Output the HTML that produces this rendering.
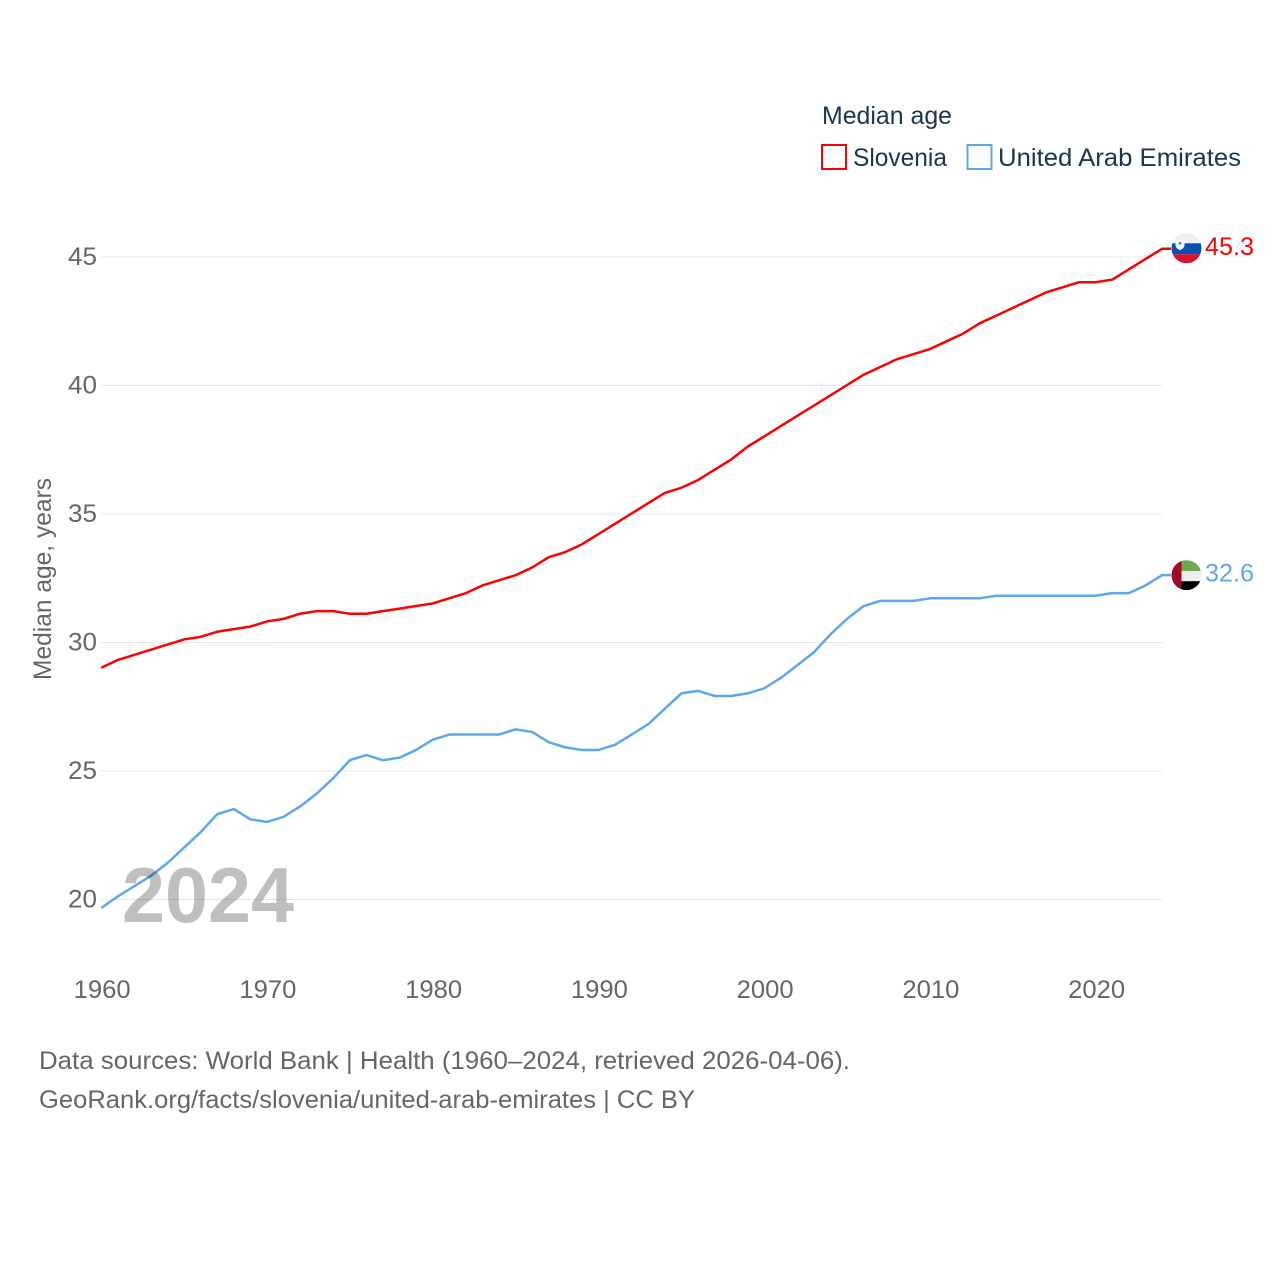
<!DOCTYPE html>
<html lang="en">
<head>
<meta charset="utf-8">
<title>Median age: Slovenia and United Arab Emirates</title>
<style>
  html, body { margin: 0; padding: 0; background: #fff; }
  svg { display: block; font-family: "Liberation Sans", sans-serif; }
</style>
</head>
<body>
<svg id="chart" width="1280" height="1280" viewBox="0 0 1280 1280" xmlns="http://www.w3.org/2000/svg">
  <defs>
    <clipPath id="flag-clip-si"><circle id="clip-si" r="15"></circle></clipPath>
    <clipPath id="flag-clip-ae"><circle id="clip-ae" r="15"></circle></clipPath>
  </defs>
  <g id="grid"></g>
  <g id="y-ticks"></g>
  <g id="x-ticks"></g>
  <text transform="translate(51,680) rotate(-90)" font-size="25" fill="#666" textLength="202" lengthAdjust="spacingAndGlyphs">Median age, years</text>

  <g id="series"></g>
  <text x="122" y="922" font-size="78" font-weight="700" fill="rgba(0,0,0,0.25)" textLength="172" lengthAdjust="spacingAndGlyphs">2024</text>

  <g id="flag-si"></g>
  <g id="flag-ae"></g>
  <g id="end-labels"></g>

  <g>
    <text x="822" y="124" font-size="25" fill="#1a3557" textLength="130" lengthAdjust="spacingAndGlyphs">Median age</text>
    <rect x="822" y="145" width="24" height="24" fill="none" stroke="#ff0000" stroke-width="2"></rect>
    <text x="853" y="166" font-size="25" fill="#1a3557" textLength="94" lengthAdjust="spacingAndGlyphs">Slovenia</text>
    <rect x="967.5" y="145" width="24" height="24" fill="none" stroke="#5ba8f0" stroke-width="2"></rect>
    <text x="998" y="166" font-size="25" fill="#1a3557" textLength="243" lengthAdjust="spacingAndGlyphs">United Arab Emirates</text>
  </g>

  <g>
    <text x="39" y="1069" font-size="25" fill="#666" textLength="811" lengthAdjust="spacingAndGlyphs">Data sources: World Bank | Health (1960–2024, retrieved 2026-04-06).</text>
    <text x="39" y="1108" font-size="25" fill="#666" textLength="656" lengthAdjust="spacingAndGlyphs">GeoRank.org/facts/slovenia/united-arab-emirates | CC BY</text>
  </g>
</svg>

<script>
const years = [1960,1961,1962,1963,1964,1965,1966,1967,1968,1969,1970,1971,1972,1973,1974,1975,1976,1977,1978,1979,1980,1981,1982,1983,1984,1985,1986,1987,1988,1989,1990,1991,1992,1993,1994,1995,1996,1997,1998,1999,2000,2001,2002,2003,2004,2005,2006,2007,2008,2009,2010,2011,2012,2013,2014,2015,2016,2017,2018,2019,2020,2021,2022,2023,2024];
const sloveniaValues = [29.0,29.3,29.5,29.7,29.9,30.1,30.2,30.4,30.5,30.6,30.8,30.9,31.1,31.2,31.2,31.1,31.1,31.2,31.3,31.4,31.5,31.7,31.9,32.2,32.4,32.6,32.9,33.3,33.5,33.8,34.2,34.6,35.0,35.4,35.8,36.0,36.3,36.7,37.1,37.6,38.0,38.4,38.8,39.2,39.6,40.0,40.4,40.7,41.0,41.2,41.4,41.7,42.0,42.4,42.7,43.0,43.3,43.6,43.8,44.0,44.0,44.1,44.5,44.9,45.3];
const uaeValues = [19.65,20.1,20.5,20.9,21.4,22.0,22.6,23.3,23.5,23.1,23.0,23.2,23.6,24.1,24.7,25.4,25.6,25.4,25.5,25.8,26.2,26.4,26.4,26.4,26.4,26.6,26.5,26.1,25.9,25.8,25.8,26.0,26.4,26.8,27.4,28.0,28.1,27.9,27.9,28.0,28.2,28.6,29.1,29.6,30.3,30.9,31.4,31.6,31.6,31.6,31.7,31.7,31.7,31.7,31.8,31.8,31.8,31.8,31.8,31.8,31.8,31.9,31.9,32.2,32.6];
const yTickValues = [20,25,30,35,40,45];
const xTickValues = [1960,1970,1980,1990,2000,2010,2020];

const NS = 'http://www.w3.org/2000/svg';
const xScale = function (year) { return 101.2 + (year - 1960) * 16.575; };
const yScale = function (v) { return 899.5 - (v - 20) * 25.7; };
const byId = function (id) { return document.getElementById(id); };
const make = function (tag, attrs, parent) {
  const el = document.createElementNS(NS, tag);
  Object.keys(attrs).forEach(function (k) { el.setAttribute(k, attrs[k]); });
  parent.appendChild(el);
  return el;
};

yTickValues.forEach(function (v) {
  const line = make('line', { x1: 101, x2: 1162, y1: yScale(v), y2: yScale(v), stroke: '#e8e8e8', 'stroke-width': 1 }, byId('grid'));
  
  
  const label = make('text', { x: 97, y: yScale(v) + 8, 'text-anchor': 'end', 'font-size': 25, fill: '#666', textLength: 29, lengthAdjust: 'spacingAndGlyphs' }, byId('y-ticks'));
  
  
  label.textContent = String(v);
});

xTickValues.forEach(function (year) {
  const label = make('text', { x: xScale(year) + 1, y: 998, 'text-anchor': 'middle', 'font-size': 25, fill: '#666', textLength: 57, lengthAdjust: 'spacingAndGlyphs' }, byId('x-ticks'));
  
  
  label.textContent = String(year);
});

const linePath = function (values) {
  const pts = values.map(function (v, i) { return xScale(years[i]).toFixed(2) + ',' + (yScale(v) - 0.5).toFixed(2); });
  const last = values[values.length - 1];
  pts.push((xScale(years[years.length - 1]) + 9).toFixed(2) + ',' + (yScale(last) - 0.5).toFixed(2));
  return 'M' + pts.join('L');
};

const uaeLine = make('path', { d: linePath(uaeValues), fill: 'none', stroke: '#5ba8f0', 'stroke-width': 2.5, 'stroke-linejoin': 'round' }, byId('series'));


const slLine = make('path', { d: linePath(sloveniaValues), fill: 'none', stroke: '#ff0000', 'stroke-width': 2.5, 'stroke-linejoin': 'round' }, byId('series'));



const flagX = 1186.5;
const siLast = sloveniaValues[sloveniaValues.length - 1];
const aeLast = uaeValues[uaeValues.length - 1];
const siY = yScale(siLast) - 1;
const aeY = yScale(aeLast) - 0.5;

byId('clip-si').setAttribute('cx', flagX);
byId('clip-si').setAttribute('cy', siY);
byId('clip-ae').setAttribute('cx', flagX);
byId('clip-ae').setAttribute('cy', aeY);

const si = byId('flag-si');
si.setAttribute('clip-path', 'url(#flag-clip-si)');
make('rect', { x: flagX - 15, y: siY - 15, width: 30, height: 10, fill: '#efefef' }, si);
make('rect', { x: flagX - 15, y: siY - 5, width: 30, height: 11, fill: '#0a50b0' }, si);
make('rect', { x: flagX - 15, y: siY + 6, width: 30, height: 9, fill: '#d8112f' }, si);
make('path', { d: 'M' + (flagX - 11) + ' ' + (siY - 8) + 'h9v5q0 3-4.500 5q-4.500-2-4.500-5z', fill: '#f5f5f5' }, si);
make('circle', { cx: flagX - 6.5, cy: siY - 5, r: 1.5, fill: '#5f8fcf' }, si);

const ae = byId('flag-ae');
ae.setAttribute('clip-path', 'url(#flag-clip-ae)');
make('rect', { x: flagX - 15, y: aeY - 15, width: 30, height: 11, fill: '#72a950' }, ae);
make('rect', { x: flagX - 15, y: aeY - 4, width: 30, height: 10, fill: '#efefef' }, ae);
make('rect', { x: flagX - 15, y: aeY + 6, width: 30, height: 9, fill: '#000000' }, ae);
make('rect', { x: flagX - 15, y: aeY - 15, width: 10, height: 30, fill: '#9e0b2a' }, ae);

const siLabel = make('text', { x: 1205, y: yScale(siLast) + 5.5, 'font-size': 25, fill: '#ff0000', textLength: 49, lengthAdjust: 'spacingAndGlyphs' }, byId('end-labels'));


siLabel.textContent = siLast.toFixed(1);
const aeLabel = make('text', { x: 1205, y: yScale(aeLast) + 6, 'font-size': 25, fill: '#5ba8f0', textLength: 49, lengthAdjust: 'spacingAndGlyphs' }, byId('end-labels'));


aeLabel.textContent = aeLast.toFixed(1);
</script>
</body>
</html>
